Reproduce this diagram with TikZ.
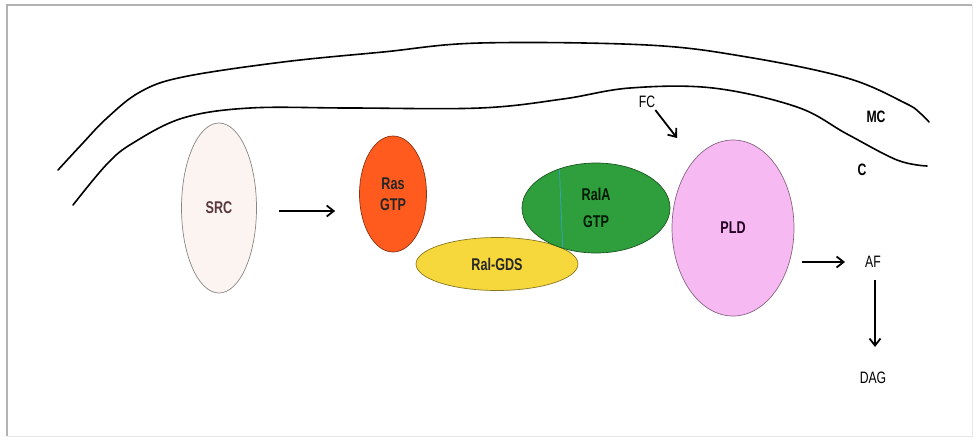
\documentclass[tikz,border=0pt]{standalone}
\usepackage{fontspec}
\setmainfont{Liberation Sans}[FakeStretch=0.74]
\usepackage{tikz}
\usetikzlibrary{shapes.geometric,arrows.meta,calc}

\definecolor{srcfill}{HTML}{FBF4F1}
\definecolor{srctext}{HTML}{5A383E}
\definecolor{rasfill}{HTML}{FF5B1E}
\definecolor{gdsfill}{HTML}{F7D83C}
\definecolor{ralfill}{HTML}{2F9E3C}
\definecolor{pldfill}{HTML}{F6B9F1}

\begin{document}
\begin{tikzpicture}[x=1pt,y=-1pt,
  prot/.style={ellipse,draw=#1!55!black,line width=0.7pt,inner sep=0pt,font=\bfseries\fontsize{17}{21}\selectfont,align=center},
  lab/.style={inner sep=0pt,text=black,font=\fontsize{16.5}{20}\selectfont},
  membrane/.style={line width=1.6pt,line cap=round},
  go/.style={line width=1.8pt,-{Straight Barb[length=7pt,width=11pt,line width=1.8pt]}}]
\useasboundingbox (0,0) rectangle (979,440);
\tikzstyle{every node}+=[text=black!85]
% frame
\draw [black!30,line width=1.4pt] (7,436) -- (7,5) -- (972,5);
\draw [black!10,line width=0.8pt] (972,5) -- (972,436) -- (7,436);
% membranes
\draw [membrane] plot [smooth,tension=0.6] coordinates {(58,170) (82,144) (107,118) (140,92) (183,77) (283,62) (383,52) (480,43) (647,45) (747,57) (847,78) (905,103) (920,113) (929,122)};
\draw [membrane] plot [smooth,tension=0.6] coordinates {(73,205) (107,164) (133,143) (183,118) (250,108) (350,108) (480,108) (563,99) (630,88) (713,88) (797,107) (847,134) (897,160) (927,166)};
\node [lab,font=\bfseries\fontsize{16.5}{20}\selectfont] (mc) at (876,117) {MC};
\node [lab,font=\bfseries\fontsize{16.5}{20}\selectfont] (c) at (862,170) {C};
% proteins
\node [prot=srcfill,fill=srcfill,minimum width=75pt,minimum height=170pt,text=srctext] (src) at (219,208) {SRC};
\node [prot=rasfill,fill=rasfill,minimum width=67pt,minimum height=116pt,text=black!85] (ras) at (393,194) {Ras\\GTP};
\node [prot=gdsfill,fill=gdsfill,minimum width=162pt,minimum height=53pt] (gds) at (497,264) {Ral-GDS};
\node [prot=ralfill,fill=ralfill,minimum width=148pt,minimum height=90pt,text=black!90!green] (ral) at (596,208) {RalA\\[6pt]GTP};
\begin{scope}
\clip (ral.center) ellipse (73pt and 44pt);
\draw [cyan!60!ralfill,line width=0.8pt] (559,160) -- (563,255);
\end{scope}
\node [prot=pldfill,fill=pldfill,minimum width=122pt,minimum height=176pt,text=black!75!violet] (pld) at (733,228) {PLD};
% products
\node [lab] (fc) at (647,102) {FC};
\coordinate (fctip) at (677,138);
\node [lab] (af) at (873,262) {AF};
\node [lab] (dag) at (873,378) {DAG};
% arrows
\draw [go] (src.east) ++(22,3) -- ($(ras.west)+(-24,17)$);
\draw [go] (fc.south east) ++(0,2) -- (fctip);
\draw [go] (pld.east) ++(8,34) -- ($(af.west)+(-20,0)$);
\draw [go,line width=1.3pt] (af.south) ++(2,12) -- ($(dag.north)+(2,-25)$);
\end{tikzpicture}
\end{document}
